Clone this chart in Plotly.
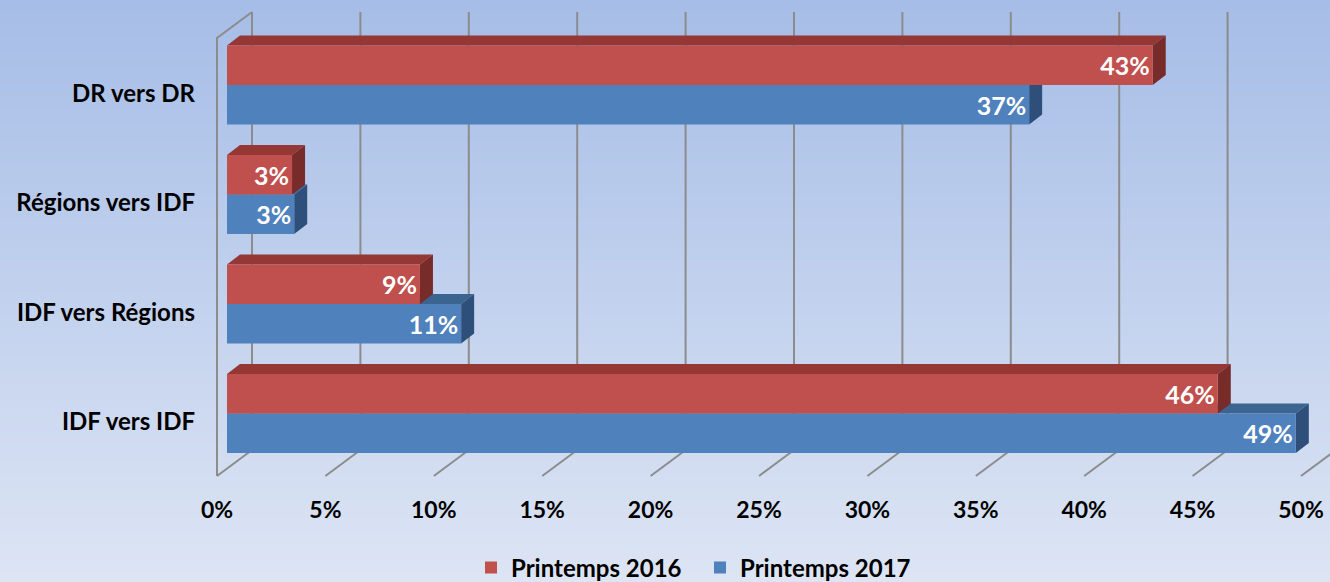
import base64
import struct
import zlib
import plotly.graph_objects as go

# ---------------- data ----------------
categories = ["IDF vers IDF", "IDF vers Régions", "Régions vers IDF", "DR vers DR"]
series_names = ["Printemps 2016", "Printemps 2017"]
values_2016 = [45.7, 8.9, 3.0, 42.7]
values_2017 = [49.3, 10.8, 3.1, 37.0]
x_ticks = [0, 5, 10, 15, 20, 25, 30, 35, 40, 45, 50]

# ---------------- geometry (pixels) ----------------
W, H = 1330, 582
PXU = 21.68          # pixels per percent
BAR_X0 = 227         # 0% on bar front plane
FRONT_X0 = 217       # 0% on front edge of floor
BACK_X0 = 252        # 0% on back wall
YU = 109.5           # pixels per category
CAT0_Y = 422         # pixel row of first category label
FLOOR_FRONT_Y, FLOOR_BACK_Y = 476, 450
WALL_TOP_FRONT_Y, WALL_TOP_BACK_Y = 38, 12
BAR_H_PX = 39.5
SPLIT_PX = 8.5
BAR_DX_PX, BAR_DY_PX = 13, 10

RED = "#C0504D"; RED_TOP = "#943735"; RED_SIDE = "#772C2A"
BLUE = "#4F81BD"; BLUE_TOP = "#3C6491"; BLUE_SIDE = "#2E4F7A"
GRID = "#8C8C8C"
FONT = "Lato"


def ydat(py):
    return (CAT0_Y - py) / YU


positions = list(range(len(categories)))
bw = BAR_H_PX / YU
off_red = SPLIT_PX / YU
off_blue = off_red - bw
dx = BAR_DX_PX / PXU
dy = BAR_DY_PX / YU

# ---------------- background gradient ----------------
def gradient_png(top, bottom, n=256):
    raw = b""
    for k in range(n):
        t = k / (n - 1)
        px = bytes(int(round(a + (b - a) * t)) for a, b in zip(top, bottom))
        raw += b"\x00" + px

    def chunk(tag, data):
        c = struct.pack(">I", len(data)) + tag + data
        return c + struct.pack(">I", zlib.crc32(tag + data) & 0xFFFFFFFF)

    png = b"\x89PNG\r\n\x1a\n"
    png += chunk(b"IHDR", struct.pack(">IIBBBBB", 1, n, 8, 2, 0, 0, 0))
    png += chunk(b"IDAT", zlib.compress(raw))
    png += chunk(b"IEND", b"")
    return "data:image/png;base64," + base64.b64encode(png).decode()


bg = gradient_png((166, 189, 231), (221, 229, 244))

fig = go.Figure()

# ---------------- grid (walls & floor) on front-plane axis x2 ----------------
back_off = (BACK_X0 - FRONT_X0) / PXU
gx, gy = [], []
for t in x_ticks:
    gx += [t, t + back_off, None]
    gy += [ydat(FLOOR_FRONT_Y), ydat(FLOOR_BACK_Y), None]
    gx += [t + back_off, t + back_off, None]
    gy += [ydat(FLOOR_BACK_Y), ydat(WALL_TOP_BACK_Y), None]
gx += [x_ticks[0], x_ticks[0], x_ticks[0] + back_off, None]
gy += [ydat(FLOOR_FRONT_Y), ydat(WALL_TOP_FRONT_Y), ydat(WALL_TOP_BACK_Y), None]
fig.add_trace(go.Scatter(x=gx, y=gy, xaxis="x2", yaxis="y", mode="lines",
                         line=dict(color=GRID, width=2), hoverinfo="skip",
                         showlegend=False, zorder=0))


def faces(vals, off):
    tx, ty, sx, sy = [], [], [], []
    for p, v in zip(positions, vals):
        b = p + off
        t = b + bw
        tx += [0, v, v + dx, dx, 0, None]
        ty += [t, t, t + dy, t + dy, t, None]
        sx += [v, v, v + dx, v + dx, v, None]
        sy += [b, t, t + dy, b + dy, b, None]
    return tx, ty, sx, sy


def add_faces(vals, off, ctop, cside, z):
    tx, ty, sx, sy = faces(vals, off)
    fig.add_trace(go.Scatter(x=tx, y=ty, mode="lines", fill="toself", fillcolor=ctop,
                             line=dict(width=0, color=ctop), hoverinfo="skip",
                             showlegend=False, zorder=z))
    fig.add_trace(go.Scatter(x=sx, y=sy, mode="lines", fill="toself", fillcolor=cside,
                             line=dict(width=0, color=cside), hoverinfo="skip",
                             showlegend=False, zorder=z))


def add_bar(vals, off, color, name, z):
    fig.add_trace(go.Bar(
        x=vals, y=positions, orientation="h", base=0, offset=off, width=bw,
        name=name, marker=dict(color=color, line=dict(width=0)),
        texttemplate="%{x:.0f}%", textposition="inside", insidetextanchor="end",
        textangle=0, constraintext="none",
        insidetextfont=dict(family=FONT, size=25, color="white", weight=700),
        hovertemplate="%{x:.0f}%<extra>" + name + "</extra>", zorder=z))


add_faces(values_2017, off_blue, BLUE_TOP, BLUE_SIDE, 1)
add_bar(values_2017, off_blue, BLUE, series_names[1], 2)
add_faces(values_2016, off_red, RED_TOP, RED_SIDE, 3)
add_bar(values_2016, off_red, RED, series_names[0], 4)

fig.update_layout(
    width=W, height=H,
    margin=dict(l=0, r=0, t=0, b=0, autoexpand=False),
    paper_bgcolor="#c3d1ee",
    plot_bgcolor="rgba(0,0,0,0)",
    images=[dict(source=bg, xref="paper", yref="paper", x=0, y=1, sizex=1, sizey=1,
                 sizing="stretch", layer="below")],
    barmode="overlay",
    showlegend=True,
    legend=dict(orientation="h", x=0.5 + 35 / W, xanchor="center", y=1 - 568 / H,
                yanchor="middle", bgcolor="rgba(0,0,0,0)", traceorder="reversed",
                entrywidth=184,
                font=dict(family=FONT, size=24, color="black", weight=700)),
    xaxis=dict(range=[(0 - BAR_X0) / PXU, (W - BAR_X0) / PXU], domain=[0, 1],
               visible=False, fixedrange=True),
    xaxis2=dict(range=[(0 - FRONT_X0) / PXU, (W - FRONT_X0) / PXU], overlaying="x",
                anchor="free", position=1 - FLOOR_FRONT_Y / H, side="bottom",
                tickvals=x_ticks, ticktext=[f"{t}%" for t in x_ticks],
                ticks="", showgrid=False, zeroline=False, showline=False,
                ticklabelstandoff=18, fixedrange=True,
                tickfont=dict(family=FONT, size=23, color="black", weight=700)),
    yaxis=dict(range=[ydat(H), ydat(0)], domain=[0, 1], anchor="free",
               position=FRONT_X0 / W, tickvals=positions, ticktext=categories,
               ticks="", showgrid=False, zeroline=False, showline=False,
               ticklabelstandoff=22, fixedrange=True,
               tickfont=dict(family=FONT, size=24, color="black", weight=700)),
    font=dict(family=FONT),
)

fig.write_html("out.html", config={"displayModeBar": False},
               post_script="document.body.style.margin='0';")
